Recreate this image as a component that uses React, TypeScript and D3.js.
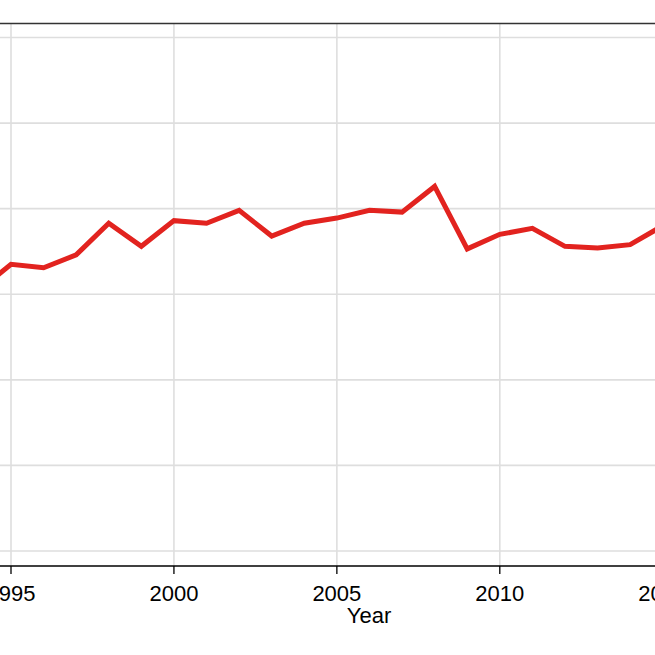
import React from "react";
import * as d3 from "d3";

const years = [1994, 1995, 1996, 1997, 1998, 1999, 2000, 2001, 2002, 2003, 2004, 2005, 2006, 2007, 2008, 2009, 2010, 2011, 2012, 2013, 2014, 2015];
const values = [30.4, 33.5, 33.1, 34.6, 38.3, 35.6, 38.6, 38.3, 39.8, 36.8, 38.3, 38.9, 39.8, 39.6, 42.6, 35.3, 37.0, 37.7, 35.6, 35.4, 35.8, 38.0];
const xTicks = [1990, 1995, 2000, 2005, 2010, 2015];
const yGrid = [0, 10, 20, 30, 40, 50, 60];

export default function App() {
  const W = 655, H = 655;
  const x = d3.scaleLinear().domain([1995, 2010]).range([11, 499.8]);
  const y = d3.scaleLinear().domain([0, 60]).range([551, 37.5]);
  const panelTop = 23.5, axisY = 566;
  const line = d3.line<number>().x((_, i) => x(years[i])).y((v) => y(v));
  return (
    <div style={{ position: "fixed", left: 0, top: 0 }}>
      <svg width={W} height={H} style={{ display: "block", background: "#fff" }}>
        <defs>
          <clipPath id="panel">
            <rect x={-100} y={panelTop} width={W + 200} height={axisY - panelTop} />
          </clipPath>
        </defs>
        <g clipPath="url(#panel)">
          {yGrid.map((v) => (
            <line key={"h" + v} x1={0} x2={W} y1={y(v)} y2={y(v)} stroke="#dedede" strokeWidth={1.6} />
          ))}
          {xTicks.map((t) => (
            <line key={"v" + t} x1={x(t)} x2={x(t)} y1={panelTop} y2={axisY} stroke="#dedede" strokeWidth={1.6} />
          ))}
          <path d={line(values) || ""} fill="none" stroke="#e2231f" strokeWidth={5} strokeLinejoin="miter" />
        </g>
        <line x1={0} x2={W} y1={panelTop} y2={panelTop} stroke="#333" strokeWidth={1.5} />
        <line x1={0} x2={W} y1={axisY} y2={axisY} stroke="#000" strokeWidth={1.3} />
        {xTicks.map((t) => (
          <g key={"t" + t}>
            <line x1={x(t)} x2={x(t)} y1={axisY} y2={axisY + 8} stroke="#000" strokeWidth={1.3} />
            <text x={x(t)} y={601} textAnchor="middle" fontFamily="Liberation Sans, Arial, sans-serif" fontSize={22} fill="#000">
              {t}
            </text>
          </g>
        ))}
        <text x={369} y={623} textAnchor="middle" fontFamily="Liberation Sans, Arial, sans-serif" fontSize={22} fill="#000">
          Year
        </text>
      </svg>
    </div>
  );
}
